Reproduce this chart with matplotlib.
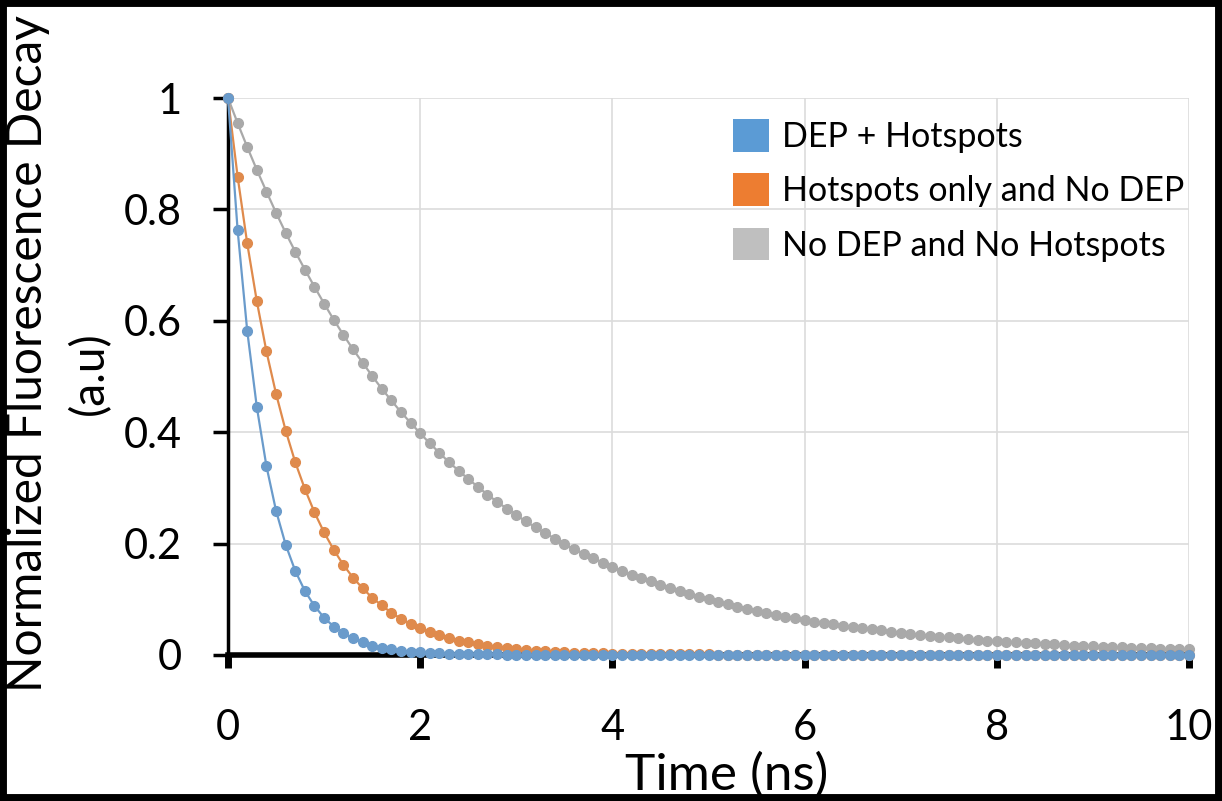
import numpy as np
import matplotlib
matplotlib.use("Agg")
import matplotlib.pyplot as plt
from matplotlib.patches import Patch, Rectangle

# sample times, 0.1 ns step from 0 to 10 ns
time_ns = np.arange(0, 101) / 10

dep_hotspots = [
    1.000, 0.763, 0.582, 0.445, 0.339, 0.259, 0.198, 0.151, 0.115, 0.088,
    0.067, 0.051, 0.039, 0.030, 0.023, 0.017, 0.013, 0.010, 0.008, 0.006,
    0.005, 0.003, 0.003, 0.002, 0.002, 0.001, 0.001, 0.001, 0.001, 0.000,
    0.000, 0.000, 0.000, 0.000, 0.000, 0.000, 0.000, 0.000, 0.000, 0.000,
    0.000, 0.000, 0.000, 0.000, 0.000, 0.000, 0.000, 0.000, 0.000, 0.000,
    0.000, 0.000, 0.000, 0.000, 0.000, 0.000, 0.000, 0.000, 0.000, 0.000,
    0.000, 0.000, 0.000, 0.000, 0.000, 0.000, 0.000, 0.000, 0.000, 0.000,
    0.000, 0.000, 0.000, 0.000, 0.000, 0.000, 0.000, 0.000, 0.000, 0.000,
    0.000, 0.000, 0.000, 0.000, 0.000, 0.000, 0.000, 0.000, 0.000, 0.000,
    0.000, 0.000, 0.000, 0.000, 0.000, 0.000, 0.000, 0.000, 0.000, 0.000,
    0.000,
]

hotspots_only = [
    1.000, 0.859, 0.739, 0.635, 0.545, 0.469, 0.403, 0.346, 0.298, 0.256,
    0.220, 0.189, 0.162, 0.139, 0.120, 0.103, 0.089, 0.076, 0.065, 0.056,
    0.048, 0.042, 0.036, 0.031, 0.026, 0.023, 0.019, 0.017, 0.014, 0.012,
    0.011, 0.009, 0.008, 0.007, 0.006, 0.005, 0.004, 0.004, 0.003, 0.003,
    0.002, 0.002, 0.002, 0.002, 0.001, 0.001, 0.001, 0.001, 0.001, 0.001,
    0.001, 0.000, 0.000, 0.000, 0.000, 0.000, 0.000, 0.000, 0.000, 0.000,
    0.000, 0.000, 0.000, 0.000, 0.000, 0.000, 0.000, 0.000, 0.000, 0.000,
    0.000, 0.000, 0.000, 0.000, 0.000, 0.000, 0.000, 0.000, 0.000, 0.000,
    0.000, 0.000, 0.000, 0.000, 0.000, 0.000, 0.000, 0.000, 0.000, 0.000,
    0.000, 0.000, 0.000, 0.000, 0.000, 0.000, 0.000, 0.000, 0.000, 0.000,
    0.000,
]

no_dep_no_hotspots = [
    1.000, 0.955, 0.912, 0.871, 0.832, 0.794, 0.758, 0.724, 0.692, 0.661,
    0.631, 0.602, 0.575, 0.549, 0.525, 0.501, 0.478, 0.457, 0.436, 0.417,
    0.398, 0.380, 0.363, 0.346, 0.331, 0.316, 0.302, 0.288, 0.275, 0.263,
    0.251, 0.240, 0.229, 0.219, 0.209, 0.199, 0.190, 0.182, 0.174, 0.166,
    0.158, 0.151, 0.144, 0.138, 0.132, 0.126, 0.120, 0.115, 0.109, 0.105,
    0.100, 0.095, 0.091, 0.087, 0.083, 0.079, 0.076, 0.072, 0.069, 0.066,
    0.063, 0.060, 0.057, 0.055, 0.052, 0.050, 0.048, 0.046, 0.044, 0.042,
    0.040, 0.038, 0.036, 0.035, 0.033, 0.032, 0.030, 0.029, 0.027, 0.026,
    0.025, 0.024, 0.023, 0.022, 0.021, 0.020, 0.019, 0.018, 0.017, 0.017,
    0.016, 0.015, 0.014, 0.014, 0.013, 0.013, 0.012, 0.011, 0.011, 0.010,
    0.010,
]

series_labels = ["DEP + Hotspots", "Hotspots only and No DEP", "No DEP and No Hotspots"]
line_colors = ["#6a9bcb", "#df8a4c", "#a9a9a9"]
swatch_colors = ["#5b9bd5", "#ed7d31", "#bfbfbf"]

x_ticks = [0, 2, 4, 6, 8, 10]
y_ticks = [0, 0.2, 0.4, 0.6, 0.8, 1]
y_tick_labels = ["0", "0.2", "0.4", "0.6", "0.8", "1"]

plt.rcParams["font.family"] = ["Lato", "DejaVu Sans"]

W, H = 1222, 801
fig = plt.figure(figsize=(W / 100, H / 100), dpi=100)
ax = fig.add_axes([228 / W, 1 - 655 / H, (1189 - 228) / W, (655 - 98) / H])

# gray first so blue/orange sit on top near zero
for ys, c in [(no_dep_no_hotspots, line_colors[2]),
              (hotspots_only, line_colors[1]),
              (dep_hotspots, line_colors[0])]:
    ax.plot(time_ns, ys, color=c, lw=1.6, marker="o", ms=7,
            mec=c, zorder=4, clip_on=False)

ax.set_xlim(0, 10)
ax.set_ylim(0, 1)
ax.set_xticks(x_ticks)
ax.set_yticks(y_ticks)
ax.set_yticklabels(y_tick_labels)
ax.grid(True, color="#dcdcdc", lw=1.2)
ax.set_axisbelow(True)

for s in ["top", "right"]:
    ax.spines[s].set_visible(False)
ax.spines["left"].set_linewidth(2.5)
ax.spines["bottom"].set_linewidth(4)
ax.spines["left"].set_zorder(3)
ax.spines["bottom"].set_zorder(3)

ax.tick_params(axis="y", direction="out", length=11, width=2.5,
               labelsize=30, pad=22)
ax.tick_params(axis="x", direction="out", length=9, width=5,
               labelsize=30, pad=30)

# axis titles placed in figure pixels like the reference
fig.text(727 / W, 1 - 790 / H, "Time (ns)", fontsize=37,
         ha="center", va="baseline")
fig.text(28 / W, 1 - 692 / H, "Normalized Fluorescence Decay", fontsize=34.5,
         rotation=90, ha="center", va="bottom")
fig.text(90 / W, 1 - 373 / H, "(a.u)", fontsize=33,
         rotation=90, ha="center", va="center")

handles = [Patch(facecolor=c, edgecolor="none") for c in swatch_colors]
fig.legend(handles, series_labels, loc="upper left", frameon=False,
           fontsize=24.5, handlelength=1.05, handleheight=1.1,
           handletextpad=0.4, labelspacing=0.6, borderpad=0,
           borderaxespad=0, bbox_to_anchor=(733 / W, 1 - 119 / H),
           bbox_transform=fig.transFigure)

# black frame around the whole picture
fig.patches.append(Rectangle((0, 0), 1, 1, transform=fig.transFigure,
                             fill=False, edgecolor="black", lw=10, zorder=10))

fig.savefig("out.png", dpi=100)
